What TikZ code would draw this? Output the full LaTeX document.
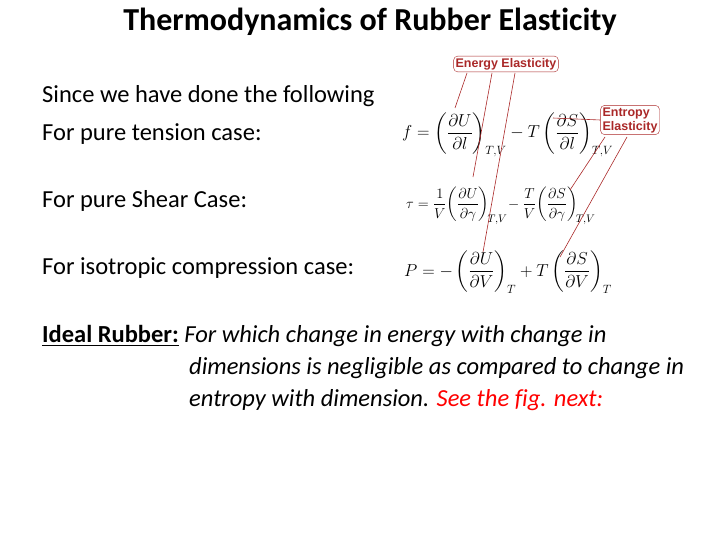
\documentclass[tikz,border=0pt]{standalone}
\usepackage{fontspec}
\usepackage{amsmath}
\setmainfont{Carlito}[Ligatures=NoCommon]
\newfontfamily\lsans{Liberation Sans}
\definecolor{lred}{RGB}{170,40,40}
\begin{document}
\begin{tikzpicture}[x=1pt,y=-1pt,
 body/.style={anchor=west,font=\fontsize{24.5}{28}\selectfont,inner sep=0},
 eq/.style={anchor=west,inner sep=0,font=\fontsize{17}{20}\selectfont},
 lbl/.style={draw=lred,rounded corners=4pt,text=lred,font=\lsans\bfseries\fontsize{12.5}{14}\selectfont,inner sep=2pt,align=left,fill=white},
 con/.style={lred,line width=0.6pt}]
\useasboundingbox (0,0) rectangle (728,546);
\node[font=\bfseries\fontsize{32}{36}\selectfont] (title) at (370,22) {Thermodynamics of Rubber Elasticity};
\node[body] (t1) at (42,96) {Since we have done the following};
\node[body] (t2) at (42,134) {For pure tension case:};
\node[body] (t3) at (42,201) {For pure Shear Case:};
\node[body] (t4) at (42,268) {For isotropic compression case:};
\node[body] (t5) at (42,336) {\textbf{\underline{Ideal Rubber:}} \textit{For which change in energy with change in}};
\node[body] (t6) at (189,368) {\textit{dimensions is negligible as compared to change in}};
\node[body] (t7) at (189,400) {\textit{entropy with dimension. \textcolor{red}{See the fig. next:}}};
\node[eq] (e1) at (402,135) {$f=\left(\dfrac{\partial U}{\partial l}\right)_{T,V}-T\left(\dfrac{\partial S}{\partial l}\right)_{T,V}$};
\node[eq,font=\fontsize{15}{18}\selectfont] (e2) at (406,206) {$\tau=\dfrac{1}{V}\!\left(\dfrac{\partial U}{\partial \gamma}\right)_{\!T,V}\!-\dfrac{T}{V}\!\left(\dfrac{\partial S}{\partial \gamma}\right)_{\!T,V}$};
\node[eq] (e3) at (404,272) {$P=-\left(\dfrac{\partial U}{\partial V}\right)_{T}+T\left(\dfrac{\partial S}{\partial V}\right)_{T}$};
\node[lbl] (en) at (506,64) {Energy Elasticity};
\node[lbl] (ent) at (630,120) {Entropy\\Elasticity};
\coordinate (a1) at (455,108); \coordinate (a2) at (473,177); \coordinate (a3) at (483,252);
\coordinate (b1) at (553,118); \coordinate (b2) at (570,190); \coordinate (b3) at (560,257);
\draw[con] (467,73) -- (a1);
\draw[con] (492,73) -- (a2);
\draw[con] (515,73) -- (a3);
\draw[con] (ent.west) -- (b1);
\draw[con] (605,137) -- (b2);
\draw[con] (627,137) -- (b3);
\end{tikzpicture}
\end{document}
